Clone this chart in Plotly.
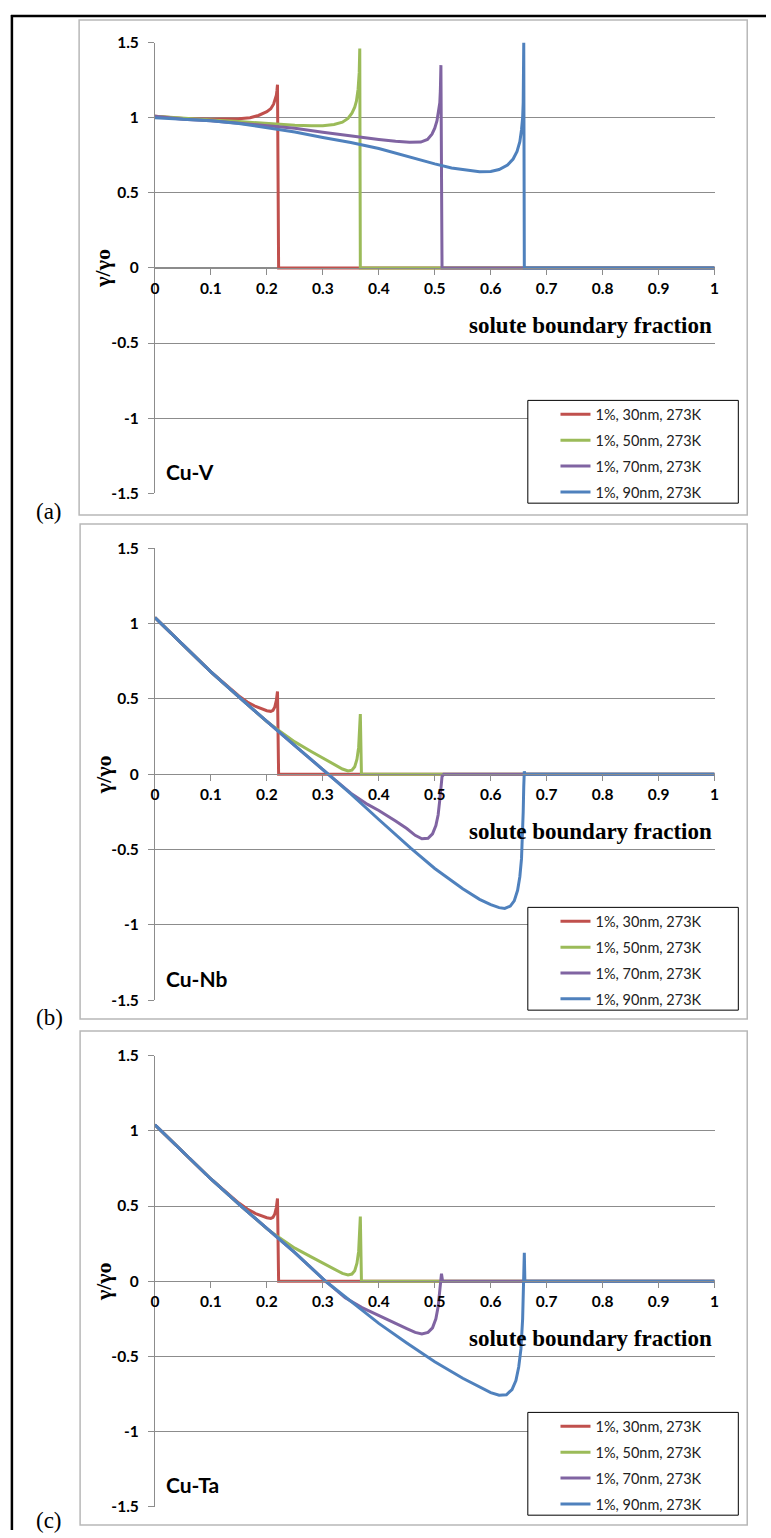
import plotly.graph_objects as go

W, H = 771, 1538

# ---------------- data ----------------
SERIES_NAMES = ["1%, 30nm, 273K", "1%, 50nm, 273K", "1%, 70nm, 273K", "1%, 90nm, 273K"]
COLORS = ["#C0504D", "#9BBB59", "#8064A2", "#4F81BD"]

X_TICKS = [0, 0.1, 0.2, 0.3, 0.4, 0.5, 0.6, 0.7, 0.8, 0.9, 1]
X_TICK_TEXT = ["0", "0.1", "0.2", "0.3", "0.4", "0.5", "0.6", "0.7", "0.8", "0.9", "1"]
Y_TICKS = [-1.5, -1, -0.5, 0, 0.5, 1, 1.5]
Y_TICK_TEXT = ["-1.5", "-1", "-0.5", "0", "0.5", "1", "1.5"]

PANEL_LABELS = ["(a)", "(b)", "(c)"]
ALLOY_LABELS = ["Cu-V", "Cu-Nb", "Cu-Ta"]
X_TITLE = "solute boundary fraction"
Y_TITLE = "γ/γo"

# Cu-V
cuv_30_x = [0, 0.05, 0.1, 0.15, 0.17, 0.185, 0.2, 0.207, 0.212, 0.215, 0.217, 0.218, 0.219, 0.221, 1.0]
cuv_30_y = [1.01, 0.995, 0.99, 0.993, 1.0, 1.015, 1.04, 1.06, 1.09, 1.12, 1.15, 1.18, 1.22, 0, 0]
cuv_50_x = [0, 0.05, 0.1, 0.15, 0.2, 0.25, 0.28, 0.3, 0.32, 0.335, 0.345, 0.352, 0.357, 0.36, 0.363, 0.365, 0.366, 0.367, 1.0]
cuv_50_y = [1.01, 0.995, 0.985, 0.975, 0.96, 0.95, 0.946, 0.947, 0.955, 0.97, 0.995, 1.03, 1.07, 1.11, 1.19, 1.3, 1.46, 0, 0]
cuv_70_x = [0, 0.05, 0.1, 0.15, 0.2, 0.25, 0.3, 0.35, 0.4, 0.43, 0.455, 0.475, 0.487, 0.495, 0.5, 0.504, 0.507, 0.509, 0.51, 0.511, 0.513, 1.0]
cuv_70_y = [1.01, 0.99, 0.98, 0.965, 0.95, 0.93, 0.903, 0.877, 0.855, 0.843, 0.836, 0.838, 0.855, 0.89, 0.93, 0.98, 1.04, 1.1, 1.18, 1.35, 0, 0]
cuv_90_x = [0, 0.05, 0.1, 0.15, 0.2, 0.25, 0.3, 0.35, 0.4, 0.45, 0.5, 0.53, 0.56, 0.58, 0.6, 0.615, 0.63, 0.64, 0.647, 0.652, 0.655, 0.657, 0.658, 0.6585, 0.659, 0.66, 1.0]
cuv_90_y = [1.0, 0.992, 0.98, 0.962, 0.935, 0.905, 0.868, 0.835, 0.795, 0.742, 0.693, 0.665, 0.647, 0.64, 0.642, 0.655, 0.685, 0.725, 0.775, 0.84, 0.92, 1.0, 1.1, 1.25, 1.5, 0, 0]

# Cu-Nb
cunb_30_x = [0, 0.05, 0.1, 0.15, 0.165, 0.18, 0.19, 0.2, 0.207, 0.211, 0.214, 0.217, 0.219, 0.221, 1.0]
cunb_30_y = [1.04, 0.86, 0.68, 0.52, 0.48, 0.45, 0.435, 0.422, 0.418, 0.425, 0.445, 0.49, 0.55, 0, 0]
cunb_50_x = [0, 0.05, 0.1, 0.154, 0.2, 0.22, 0.25, 0.28, 0.3, 0.32, 0.335, 0.345, 0.352, 0.357, 0.361, 0.364, 0.366, 0.367, 0.369, 1.0]
cunb_50_y = [1.04, 0.86, 0.68, 0.5, 0.35, 0.295, 0.215, 0.15, 0.11, 0.065, 0.035, 0.022, 0.027, 0.05, 0.1, 0.18, 0.29, 0.4, 0, 0]
cunb_70_x = [0, 0.05, 0.1, 0.154, 0.2, 0.25, 0.31, 0.35, 0.38, 0.4, 0.43, 0.45, 0.465, 0.477, 0.488, 0.496, 0.502, 0.506, 0.509, 0.511, 0.513, 0.516, 1.0]
cunb_70_y = [1.04, 0.86, 0.68, 0.5, 0.35, 0.19, 0.0, -0.125, -0.2, -0.24, -0.31, -0.36, -0.405, -0.428, -0.425, -0.395, -0.34, -0.27, -0.17, -0.08, -0.015, 0, 0]
cunb_90_x = [0, 0.05, 0.1, 0.154, 0.2, 0.25, 0.31, 0.35, 0.4, 0.457, 0.5, 0.55, 0.58, 0.6, 0.615, 0.625, 0.635, 0.642, 0.648, 0.652, 0.655, 0.657, 0.658, 0.659, 0.66, 0.661, 1.0]
cunb_90_y = [1.04, 0.86, 0.68, 0.5, 0.35, 0.19, 0.0, -0.13, -0.3, -0.49, -0.625, -0.76, -0.83, -0.865, -0.885, -0.89, -0.875, -0.84, -0.77, -0.68, -0.56, -0.4, -0.25, -0.08, 0.02, 0, 0]

# Cu-Ta
cuta_30_x = [0, 0.05, 0.1, 0.15, 0.165, 0.18, 0.19, 0.2, 0.207, 0.211, 0.214, 0.217, 0.219, 0.221, 1.0]
cuta_30_y = [1.04, 0.86, 0.68, 0.52, 0.48, 0.45, 0.435, 0.422, 0.418, 0.425, 0.445, 0.49, 0.55, 0, 0]
cuta_50_x = [0, 0.05, 0.1, 0.154, 0.2, 0.22, 0.25, 0.28, 0.3, 0.32, 0.335, 0.345, 0.352, 0.357, 0.361, 0.364, 0.366, 0.367, 0.369, 1.0]
cuta_50_y = [1.04, 0.86, 0.68, 0.5, 0.35, 0.295, 0.22, 0.16, 0.12, 0.078, 0.052, 0.042, 0.048, 0.07, 0.12, 0.2, 0.31, 0.43, 0, 0]
cuta_70_x = [0, 0.05, 0.1, 0.154, 0.2, 0.25, 0.305, 0.34, 0.37, 0.4, 0.43, 0.45, 0.465, 0.477, 0.488, 0.496, 0.502, 0.506, 0.509, 0.511, 0.512, 0.514, 1.0]
cuta_70_y = [1.04, 0.86, 0.68, 0.5, 0.35, 0.19, 0.0, -0.11, -0.175, -0.225, -0.28, -0.315, -0.34, -0.35, -0.34, -0.31, -0.25, -0.17, -0.07, 0.0, 0.05, 0, 0]
cuta_90_x = [0, 0.05, 0.1, 0.154, 0.2, 0.25, 0.305, 0.35, 0.4, 0.45, 0.5, 0.55, 0.58, 0.6, 0.615, 0.628, 0.638, 0.645, 0.65, 0.654, 0.657, 0.659, 0.66, 0.661, 1.0]
cuta_90_y = [1.04, 0.86, 0.68, 0.5, 0.35, 0.19, 0.0, -0.135, -0.28, -0.41, -0.535, -0.645, -0.7, -0.74, -0.758, -0.755, -0.72, -0.66, -0.57, -0.45, -0.25, 0.0, 0.19, 0, 0]

PANELS = [
    [(cuv_30_x, cuv_30_y), (cuv_50_x, cuv_50_y), (cuv_70_x, cuv_70_y), (cuv_90_x, cuv_90_y)],
    [(cunb_30_x, cunb_30_y), (cunb_50_x, cunb_50_y), (cunb_70_x, cunb_70_y), (cunb_90_x, cunb_90_y)],
    [(cuta_30_x, cuta_30_y), (cuta_50_x, cuta_50_y), (cuta_70_x, cuta_70_y), (cuta_90_x, cuta_90_y)],
]

# ---------------- layout geometry (pixels) ----------------
GEOM = [
    dict(frame=(76, 10, 752, 511), plot=(152.7, 33, 719, 489), legend=(530, 395, 743, 499), label_y=507, alloy_y=467),
    dict(frame=(77, 520, 752, 1021), plot=(152.7, 544.7, 719, 1002), legend=(530, 908, 743, 1012), label_y=1019, alloy_y=980),
    dict(frame=(77, 1033, 752, 1533), plot=(152.7, 1058, 719, 1514.6), legend=(530, 1419, 743, 1523), label_y=1528, alloy_y=1492),
]


def px(x):
    return x / W


def py(y):
    return 1 - y / H


GRID = "#8c8c8c"
TICK_FONT = dict(family="Lato", size=15.5, color="black", weight="bold")

fig = go.Figure()
layout = dict(
    width=W, height=H, margin=dict(l=0, r=0, t=0, b=0),
    paper_bgcolor="white", plot_bgcolor="white",
    showlegend=True, shapes=[], annotations=[],
)

for i, series in enumerate(PANELS):
    sfx = "" if i == 0 else str(i + 1)
    g = GEOM[i]
    x0, y0, x1, y1 = g["plot"]
    for j, (xs, ys) in enumerate(series):
        fig.add_trace(go.Scatter(
            x=xs, y=ys, mode="lines", name=SERIES_NAMES[j],
            line=dict(color=COLORS[j], width=3),
            xaxis="x" + sfx, yaxis="y" + sfx,
            legend="legend" + sfx, legendgroup=f"p{i}s{j}",
            hoverinfo="skip",
        ))
    ydom = [py(y1), py(y0)]
    zero_y = (ydom[0] + ydom[1]) / 2
    layout["xaxis" + sfx] = dict(
        domain=[px(x0), px(x1)], range=[0, 1], anchor="free",
        position=zero_y,
        showline=True, linecolor=GRID, linewidth=1,
        ticks="outside", ticklen=6, tickcolor=GRID, tickwidth=1,
        tickvals=X_TICKS, ticktext=X_TICK_TEXT, tickfont=TICK_FONT,
        showgrid=False, zeroline=False, fixedrange=True,
    )
    layout["yaxis" + sfx] = dict(
        domain=ydom, range=[-1.5, 1.5], anchor="x" + sfx,
        showline=True, linecolor=GRID, linewidth=1,
        ticks="outside", ticklen=6, tickcolor=GRID, tickwidth=1,
        tickvals=Y_TICKS, ticktext=Y_TICK_TEXT, tickfont=TICK_FONT,
        ticklabelstandoff=6,
        showgrid=True, gridcolor=GRID, gridwidth=1, zeroline=False, fixedrange=True,
    )
    lx0, ly0, lx1, ly1 = g["legend"]
    layout["legend" + sfx] = dict(
        x=px(lx0 + 28), y=py(ly0 - 2), xanchor="left", yanchor="top",
        bgcolor="rgba(0,0,0,0)", borderwidth=0,
        font=dict(family="Lato", size=14.5, color="#222222"),
        tracegroupgap=4, traceorder="grouped",
    )
    fx0, fy0, fx1, fy1 = g["frame"]
    layout["shapes"] += [
        dict(type="rect", xref="paper", yref="paper", x0=px(fx0), x1=px(fx1), y0=py(fy1), y1=py(fy0),
             line=dict(color="#b8b8b8", width=1.5), fillcolor="rgba(0,0,0,0)", layer="below"),
        dict(type="rect", xref="paper", yref="paper", x0=px(lx0), x1=px(lx1), y0=py(ly1), y1=py(ly0),
             line=dict(color="black", width=1), fillcolor="white", layer="above"),
    ]
    layout["annotations"] += [
        dict(text=X_TITLE, xref="paper", yref="paper", x=px(718), y=zero_y - 58 / H,
             xanchor="right", yanchor="middle", showarrow=False,
             font=dict(family="Liberation Serif", size=23, color="black", weight="bold")),
        dict(text=Y_TITLE, xref="paper", yref="paper", x=px(100), y=zero_y, xanchor="center", yanchor="middle",
             textangle=-90, showarrow=False,
             font=dict(family="Liberation Serif", size=22, color="black", weight="bold")),
        dict(text=ALLOY_LABELS[i], xref="paper", yref="paper", x=px(162), y=py(g["alloy_y"]), xanchor="left",
             yanchor="middle", showarrow=False,
             font=dict(family="Lato", size=21, color="black", weight="bold")),
        dict(text=PANEL_LABELS[i], xref="paper", yref="paper", x=px(30), y=py(g["label_y"]), xanchor="left",
             yanchor="middle", showarrow=False,
             font=dict(family="Liberation Serif", size=23, color="black")),
    ]

layout["shapes"] += [
    dict(type="line", xref="paper", yref="paper", x0=px(8), x1=px(8), y0=0, y1=py(5),
         line=dict(color="black", width=2.5), layer="above"),
    dict(type="line", xref="paper", yref="paper", x0=px(7), x1=1, y0=py(6), y1=py(6),
         line=dict(color="black", width=2.5), layer="above"),
]

fig.update_layout(**layout)
fig.write_html(
    "out.html",
    config={"displayModeBar": False},
    post_script="document.body.style.margin='0';document.body.style.overflow='hidden';",
)
